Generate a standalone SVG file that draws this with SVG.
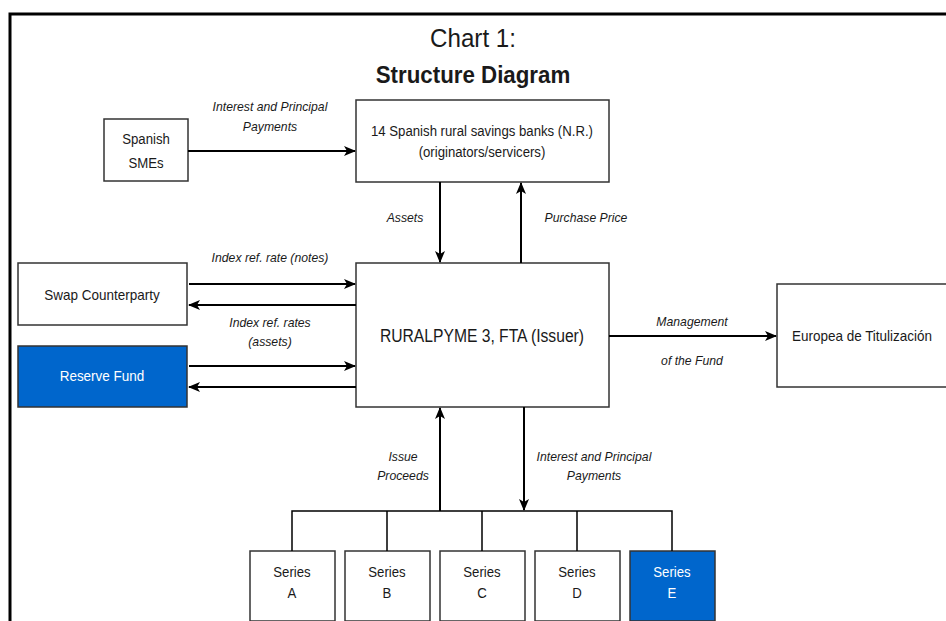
<svg xmlns="http://www.w3.org/2000/svg" width="946" height="621" viewBox="0 0 946 621">
<defs>
<style>
text{font-family:"Liberation Sans",Arial,sans-serif;fill:#1a1a1a;text-anchor:middle;dominant-baseline:central}
.box{fill:#fff;stroke:#333;stroke-width:1.5}
.blue{fill:#0066CC;stroke:#333;stroke-width:1.5}
.n{font-size:15px}
.big{font-size:18px}
.lbl{font-size:13px;font-style:italic}
.w{fill:#fff}
.c{fill:none;stroke:#000;stroke-width:2}
</style>
<marker id="ah" viewBox="0 0 12 10" refX="11" refY="5" markerWidth="12" markerHeight="10" markerUnits="userSpaceOnUse" orient="auto">
<path d="M0,0 L12,5 L0,10 L3,5 z" fill="#000"/>
</marker>
</defs>
<rect width="946" height="621" fill="#fff"/>
<path d="M10,621 V14 H946" fill="none" stroke="#000" stroke-width="3"/>
<text x="473" y="38" style="font-size:26px" transform="matrix(.93 0 0 1 33.11 0)">Chart 1:</text>
<text x="473" y="75" style="font-size:24px;font-weight:bold" transform="matrix(.93 0 0 1 33.11 0)">Structure Diagram</text>

<g id="smes"><rect class="box" x="104" y="119" width="84" height="62"/><text class="n" x="146" y="139" transform="matrix(.88 0 0 1 17.52 0)">Spanish</text><text class="n" x="146" y="163" transform="matrix(.88 0 0 1 17.52 0)">SMEs</text></g>
<g id="banks"><rect class="box" x="356" y="100" width="253" height="82"/><text class="n" x="482" y="131" transform="matrix(.88 0 0 1 57.84 0)">14 Spanish rural savings banks (N.R.)</text><text class="n" x="482" y="152" transform="matrix(.88 0 0 1 57.84 0)">(originators/servicers)</text></g>
<g id="issuer"><rect class="box" x="356" y="263" width="253" height="144"/><text class="big" x="482" y="336" transform="matrix(.87 0 0 1 62.66 0)">RURALPYME 3, FTA (Issuer)</text></g>
<g id="swap"><rect class="box" x="18" y="263" width="169" height="62"/><text class="n" x="102" y="295" transform="matrix(.9 0 0 1 10.2 0)">Swap Counterparty</text></g>
<g id="reserve"><rect class="blue" x="18" y="346" width="169" height="61"/><text class="n w" x="102" y="376" transform="matrix(.9 0 0 1 10.2 0)">Reserve Fund</text></g>
<g id="europea"><rect class="box" x="777" y="284" width="170" height="103"/><text class="n" x="862" y="336" transform="matrix(.9 0 0 1 86.2 0)">Europea de Titulización</text></g>
<g id="seriesA"><rect class="box" x="250" y="551" width="85" height="70"/><text class="n" x="292" y="572" transform="matrix(.88 0 0 1 35.04 0)">Series</text><text class="n" x="292" y="593" transform="matrix(.88 0 0 1 35.04 0)">A</text></g>
<g id="seriesB"><rect class="box" x="345" y="551" width="85" height="70"/><text class="n" x="387" y="572" transform="matrix(.88 0 0 1 46.44 0)">Series</text><text class="n" x="387" y="593" transform="matrix(.88 0 0 1 46.44 0)">B</text></g>
<g id="seriesC"><rect class="box" x="440" y="551" width="85" height="70"/><text class="n" x="482" y="572" transform="matrix(.88 0 0 1 57.84 0)">Series</text><text class="n" x="482" y="593" transform="matrix(.88 0 0 1 57.84 0)">C</text></g>
<g id="seriesD"><rect class="box" x="535" y="551" width="85" height="70"/><text class="n" x="577" y="572" transform="matrix(.88 0 0 1 69.24 0)">Series</text><text class="n" x="577" y="593" transform="matrix(.88 0 0 1 69.24 0)">D</text></g>
<g id="seriesE"><rect class="blue" x="630" y="551" width="85" height="70"/><text class="n w" x="672" y="572" transform="matrix(.88 0 0 1 80.64 0)">Series</text><text class="n w" x="672" y="593" transform="matrix(.88 0 0 1 80.64 0)">E</text></g>

<g id="connectors">
<path class="c" d="M188,151 H355" marker-end="url(#ah)"/>
<path class="c" d="M440,182 V262" marker-end="url(#ah)"/>
<path class="c" d="M521,263 V183" marker-end="url(#ah)"/>
<path class="c" d="M189,284 H355" marker-end="url(#ah)"/>
<path class="c" d="M356,305 H189" marker-end="url(#ah)"/>
<path class="c" d="M189,366 H355" marker-end="url(#ah)"/>
<path class="c" d="M356,387 H189" marker-end="url(#ah)"/>
<path class="c" d="M609,336 H776" marker-end="url(#ah)"/>
<path class="c" d="M440,511 V408" marker-end="url(#ah)"/>
<path class="c" d="M524,407 V510" marker-end="url(#ah)"/>
<path fill="none" stroke="#000" stroke-width="1.5" d="M292,551 V511 H672 V551 M387,511 V551 M482,511 V551 M577,511 V551"/>
<text class="lbl" x="270" y="107" transform="matrix(.94 0 0 1 16.2 0)">Interest and Principal</text>
<text class="lbl" x="270" y="127" transform="matrix(.94 0 0 1 16.2 0)">Payments</text>
<text class="lbl" x="405" y="218" transform="matrix(.94 0 0 1 24.3 0)">Assets</text>
<text class="lbl" x="586" y="218" transform="matrix(.94 0 0 1 35.16 0)">Purchase Price</text>
<text class="lbl" x="270" y="258" transform="matrix(.94 0 0 1 16.2 0)">Index ref. rate (notes)</text>
<text class="lbl" x="270" y="323" transform="matrix(.94 0 0 1 16.2 0)">Index ref. rates</text>
<text class="lbl" x="270" y="342" transform="matrix(.94 0 0 1 16.2 0)">(assets)</text>
<text class="lbl" x="692" y="322" transform="matrix(.94 0 0 1 41.52 0)">Management</text>
<text class="lbl" x="692" y="361" transform="matrix(.94 0 0 1 41.52 0)">of the Fund</text>
<text class="lbl" x="403" y="457" transform="matrix(.94 0 0 1 24.18 0)">Issue</text>
<text class="lbl" x="403" y="476" transform="matrix(.94 0 0 1 24.18 0)">Proceeds</text>
<text class="lbl" x="594" y="457" transform="matrix(.94 0 0 1 35.64 0)">Interest and Principal</text>
<text class="lbl" x="594" y="476" transform="matrix(.94 0 0 1 35.64 0)">Payments</text>
</g>
</svg>
